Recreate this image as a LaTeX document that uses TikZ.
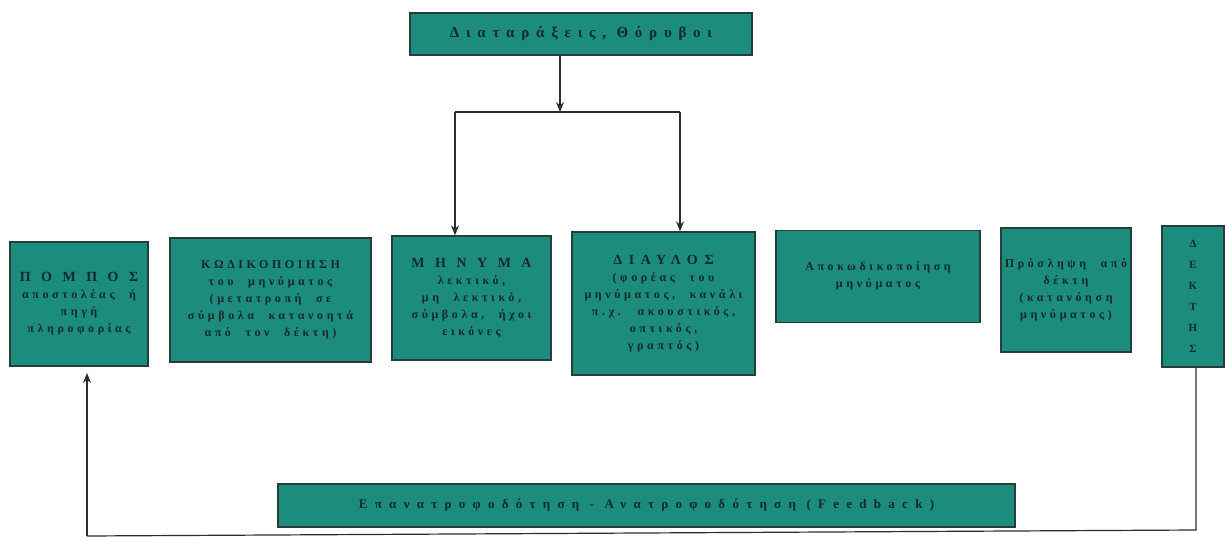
\documentclass[tikz,border=0pt]{standalone}
\usepackage{fontspec}
\setmainfont{Liberation Serif}
\newfontfamily\wide[LetterSpace=30,WordSpace=2.2]{Liberation Serif}
\newfontfamily\wider[LetterSpace=45]{Liberation Serif}
\newfontfamily\widest[LetterSpace=56]{Liberation Serif}
\newfontfamily\titlewide[LetterSpace=75]{Liberation Serif}
\newfontfamily\titlemid[LetterSpace=48]{Liberation Serif}
\usetikzlibrary{arrows.meta}
\definecolor{tealfill}{RGB}{28,140,124}
\definecolor{boxedge}{RGB}{38,62,58}
\definecolor{txt}{RGB}{18,42,40}
\definecolor{wire}{RGB}{45,45,45}
\tikzset{
  box/.style={draw=boxedge, line width=1.3pt, fill=tealfill, text=txt, align=center, inner sep=1pt,
    font=\wide\bfseries\fontsize{12}{17}\selectfont},
  wire/.style={draw=wire, line width=1.2pt},
  arr/.style={wire, -{Stealth[length=10pt,width=8pt]}}
}
\begin{document}
\begin{tikzpicture}[x=1pt,y=-1pt]
\useasboundingbox (0,0) rectangle (1226,540);
\fill[white] (0,0) rectangle (1226,540);

\node[box, minimum width=342, minimum height=42, font=\wider\bfseries\fontsize{15}{17}\selectfont] (top) at (581,34) {Διαταράξεις, Θόρυβοι};

\node[box, minimum width=138, minimum height=124] (pompos) at (79,304)
  {{\titlewide\fontsize{14}{18}\selectfont ΠΟΜΠΟΣ}\\αποστολέας ή\\πηγή\\πληροφορίας};
\node[box, minimum width=201, minimum height=124] (kod) at (270.5,300)
  {ΚΩΔΙΚΟΠΟΙΗΣΗ\\του μηνύματος\\(μετατροπή σε\\σύμβολα κατανοητά\\από τον δέκτη)};
\node[box, minimum width=159, minimum height=124] (mhn) at (471.5,298)
  {{\titlewide\fontsize{14}{18}\selectfont ΜΗΝΥΜΑ}\\λεκτικό,\\μη λεκτικό,\\σύμβολα, ήχοι\\εικόνες};
\node[box, minimum width=183, minimum height=143] (diav) at (663.5,303.5)
  {{\titlemid\fontsize{14}{18}\selectfont ΔΙΑΥΛΟΣ}\\(φορέας του\\μηνύματος, κανάλι\\π.χ. ακουστικός,\\οπτικός,\\γραπτός)};
\node[box, minimum width=204, minimum height=92, anchor=north] (apok) at (878,230)
  {\\[-10pt]Αποκωδικοποίηση\\μηνύματος};
\node[box, minimum width=130, minimum height=124] (prosl) at (1066,290)
  {Πρόσληψη από\\δέκτη\\(κατανόηση\\μηνύματος)};
\node[box, minimum width=62, minimum height=141, font=\bfseries\fontsize{11}{21}\selectfont] (dektis) at (1193,296.5)
  {Δ\\Ε\\Κ\\Τ\\Η\\Σ};

\node[box, minimum width=737, minimum height=43, font=\widest\bfseries\fontsize{13}{15}\selectfont] (fb) at (646.5,505.5)
  {Επανατροφοδότηση - Ανατροφοδότηση (Feedback)};

% noise connectors
\coordinate (j) at (560,112);
\coordinate (jl) at (455,112);
\coordinate (jr) at (680,112);
\draw[arr] (top.south -| j) -- (j);
\draw[wire] (jl) -- (jr);
\draw[arr] (jl) -- (jl |- mhn.north);
\draw[arr] (jr) -- (jr |- diav.north);

% feedback loop
\coordinate (fr) at (1196,530);
\coordinate (fl) at (87,536);
\coordinate (pa) at (87,373);
\draw[wire] (dektis.south -| fr) -- (fr) -- (fl);
\draw[arr] (fl) -- (pa);
\end{tikzpicture}
\end{document}
